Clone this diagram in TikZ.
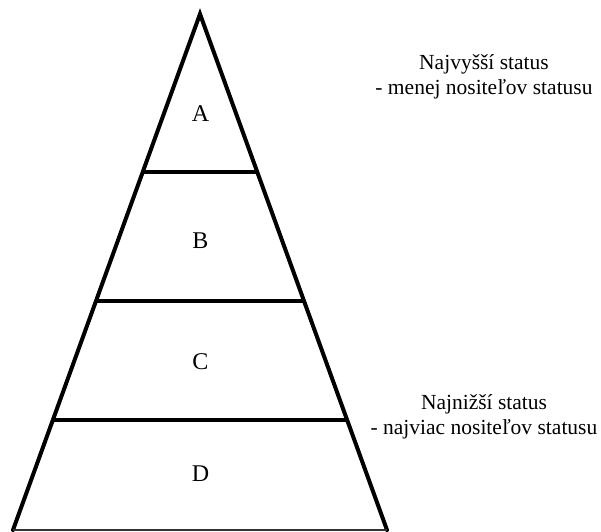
\documentclass[tikz,border=0pt]{standalone}
\usepackage{fontspec}
\setmainfont{Liberation Serif}
\begin{document}
\begin{tikzpicture}[x=1pt, y=-1pt,
        side/.style={line width=4pt, line join=miter, line cap=round},
        level/.style={line width=4pt},
        letter/.style={font=\fontsize{24}{28}\selectfont},
        note/.style={font=\fontsize{21.5}{25.5}\selectfont, align=center}]
        \useasboundingbox (0,0) rectangle (601,531);

        % pyramid outline
        \coordinate (top) at (200,14);
        \coordinate (bl) at (13,530);
        \coordinate (br) at (387,530);
        \draw[side] (bl) -- (top) -- (br);
        \draw[line width=1.2pt, black!80] (bl) -- (br);

        % levels
        \coordinate (ab-l) at (142.5,172);
        \coordinate (ab-r) at (257.5,172);
        \coordinate (bc-l) at (95.7,301);
        \coordinate (bc-r) at (304.3,301);
        \coordinate (cd-l) at (52.6,420);
        \coordinate (cd-r) at (347.4,420);
        \draw[level] (ab-l) -- (ab-r);
        \draw[level] (bc-l) -- (bc-r);
        \draw[level] (cd-l) -- (cd-r);

        \node[letter] (A) at (200.5,114) {A};
        \node[letter] (B) at (200.5,241) {B};
        \node[letter] (C) at (200.5,362) {C};
        \node[letter] (D) at (200.5,474) {D};

        % status notes
        \node[note] (high) at (484,77) {Najvyšší status\\- menej nositeľov statusu};
        \node[note] (low) at (484,417) {Najnižší status\\- najviac nositeľov statusu};
    \end{tikzpicture}
\end{document}
